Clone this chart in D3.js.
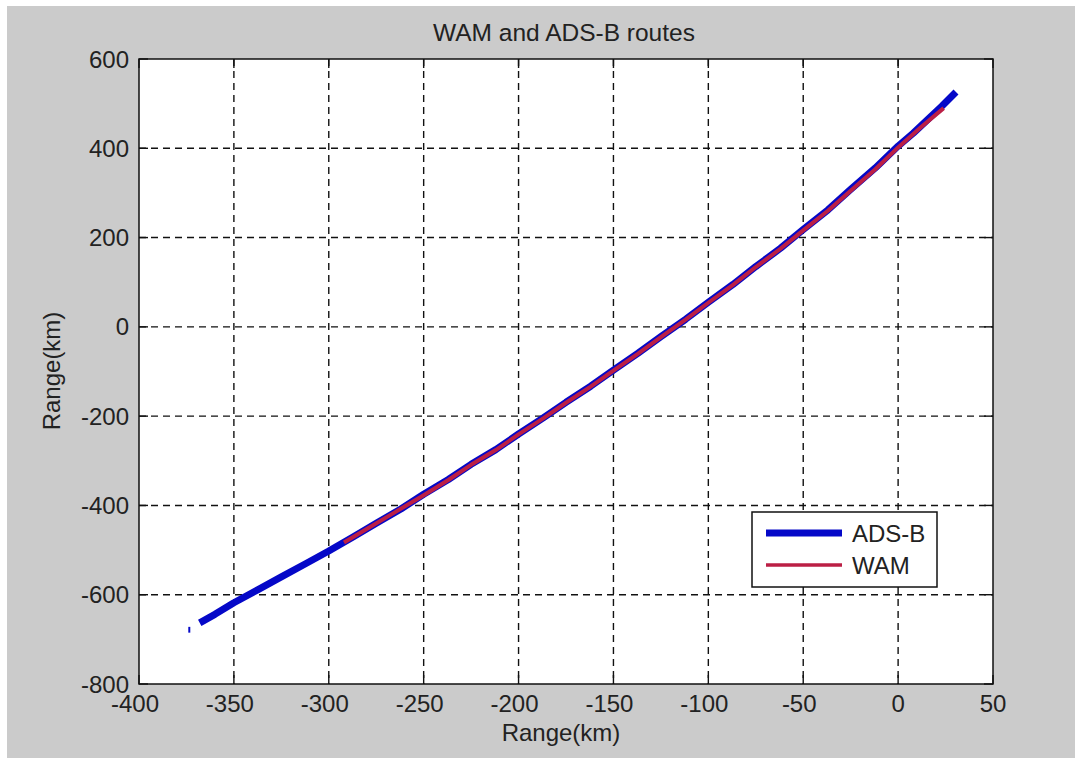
<!DOCTYPE html>
<meta charset="utf-8">
<style>
body { margin: 0; background: #fff; }
text { font-family: Arial, "Liberation Sans", sans-serif; fill: #222; }
.grid line { stroke: #111; stroke-width: 1.4; stroke-dasharray: 7,5; }
</style>
<body>
<script src="https://d3js.org/d3.v7.min.js"></script>
<script>

// ADS-B track (km)
var adsbX = [-368, -360, -350, -337, -325, -312, -300, -287, -275, -262, -250, -237, -225, -212, -200, -187, -175, -162, -150, -137, -125, -112, -100, -87, -75, -62, -50, -37, -25, -12, 0, 8, 15, 23, 30.5];
var adsbY = [-663, -644, -618, -588, -560, -530, -502, -470, -440, -408, -375, -342, -308, -275, -240, -204, -169, -133, -97, -59, -22, 17, 55, 95, 135, 176, 218, 262, 308, 356, 405, 434, 462, 494, 526];
// stray ADS-B fix at the far left
var adsbStrayX = [-373.5, -373.5];
var adsbStrayY = [-672, -685];

// WAM track (km)
var wamX = [-292, -280, -265, -250, -237, -225, -212, -200, -187, -175, -162, -150, -137, -125, -112, -100, -87, -75, -62, -50, -37, -25, -12, 0, 12, 24];
var wamY = [-483, -453, -415, -377, -343, -309, -276, -241, -205, -170, -134, -98, -60, -23, 16, 54, 94, 134, 175, 216, 260, 305, 353, 402, 447, 490];

var xTicks = [-400, -350, -300, -250, -200, -150, -100, -50, 0, 50];
var yTicks = [-800, -600, -400, -200, 0, 200, 400, 600];

var W = 1075, H = 758;
var pLeft = 139, pRight = 993, pTop = 59, pBottom = 684;

var blue = "#0508c8", red = "#bb1f45";

var svg = d3.select("body").append("svg")
    .attr("width", W)
    .attr("height", H);

// figure background (white strip top/left like the source)
svg.append("rect").attr("x", 7).attr("y", 6).attr("width", W - 7).attr("height", H - 6).attr("fill", "#cbcbcb");

var x = d3.scaleLinear().domain([-400, 50]).range([pLeft, pRight]);
var y = d3.scaleLinear().domain([-800, 600]).range([pBottom, pTop]);

svg.append("rect")
    .attr("x", pLeft).attr("y", pTop)
    .attr("width", pRight - pLeft).attr("height", pBottom - pTop)
    .attr("fill", "#fff");

// grid
var grid = svg.append("g").attr("class", "grid");
grid.selectAll(".gx").data(xTicks.slice(1, -1)).enter().append("line")
    .attr("x1", function(d) { return x(d); }).attr("x2", function(d) { return x(d); })
    .attr("y1", pTop).attr("y2", pBottom);
grid.selectAll(".gy").data(yTicks.slice(1, -1)).enter().append("line")
    .attr("y1", function(d) { return y(d); }).attr("y2", function(d) { return y(d); })
    .attr("x1", pLeft).attr("x2", pRight);

// inward ticks on all four sides
var tl = 9;
var tk = svg.append("g").attr("stroke", "#111").attr("stroke-width", 1.4);
xTicks.forEach(function(d) {
  tk.append("line").attr("x1", x(d)).attr("x2", x(d)).attr("y1", pBottom).attr("y2", pBottom - tl);
  tk.append("line").attr("x1", x(d)).attr("x2", x(d)).attr("y1", pTop).attr("y2", pTop + tl);
});
yTicks.forEach(function(d) {
  tk.append("line").attr("y1", y(d)).attr("y2", y(d)).attr("x1", pLeft).attr("x2", pLeft + tl);
  tk.append("line").attr("y1", y(d)).attr("y2", y(d)).attr("x1", pRight).attr("x2", pRight - tl);
});

// data lines
var line = d3.line()
    .x(function(d) { return x(d[0]); })
    .y(function(d) { return y(d[1]); });

svg.append("path")
    .datum(d3.zip(adsbX, adsbY))
    .attr("d", line)
    .attr("fill", "none")
    .attr("stroke", blue)
    .attr("stroke-width", 7)
    .attr("stroke-linejoin", "round");

svg.append("path")
    .datum(d3.zip(adsbStrayX, adsbStrayY))
    .attr("d", line)
    .attr("fill", "none")
    .attr("stroke", blue)
    .attr("stroke-width", 2);

svg.append("path")
    .datum(d3.zip(wamX, wamY))
    .attr("d", line)
    .attr("fill", "none")
    .attr("stroke", red)
    .attr("stroke-width", 4)
    .attr("stroke-linejoin", "round");

// axes box
svg.append("rect")
    .attr("x", pLeft).attr("y", pTop)
    .attr("width", pRight - pLeft).attr("height", pBottom - pTop)
    .attr("fill", "none").attr("stroke", "#111").attr("stroke-width", 1.5);

// tick labels
svg.selectAll(".xl").data(xTicks).enter().append("text")
    .attr("x", function(d) { return x(d) - (d < 0 ? 4 : 0); })
    .attr("y", 712)
    .attr("text-anchor", "middle")
    .style("font-size", "24px")
    .text(function(d) { return d; });

svg.selectAll(".yl").data(yTicks).enter().append("text")
    .attr("x", 129)
    .attr("y", function(d) { return y(d) + 8.5; })
    .attr("text-anchor", "end")
    .style("font-size", "24px")
    .text(function(d) { return d; });

// titles
svg.append("text")
    .attr("x", 564).attr("y", 41)
    .attr("text-anchor", "middle")
    .style("font-size", "24.5px")
    .text("WAM and ADS-B routes");

svg.append("text")
    .attr("x", 561).attr("y", 741)
    .attr("text-anchor", "middle")
    .style("font-size", "24px")
    .text("Range(km)");

svg.append("text")
    .attr("transform", "translate(60,371) rotate(-90)")
    .attr("text-anchor", "middle")
    .style("font-size", "24px")
    .text("Range(km)");

// legend
var lg = svg.append("g");
lg.append("rect")
    .attr("x", 752).attr("y", 512)
    .attr("width", 185).attr("height", 75)
    .attr("fill", "#fff").attr("stroke", "#111").attr("stroke-width", 1.5);
var legendItems = [
  {name: "ADS-B", color: blue, w: 7},
  {name: "WAM", color: red, w: 3.5}
];
legendItems.forEach(function(d, i) {
  var ly = 533 + i * 32;
  lg.append("line").attr("x1", 766).attr("x2", 842).attr("y1", ly).attr("y2", ly)
    .attr("stroke", d.color).attr("stroke-width", d.w);
  lg.append("text").attr("x", 852).attr("y", ly + 9)
    .style("font-size", "24px").text(d.name);
});

</script>
